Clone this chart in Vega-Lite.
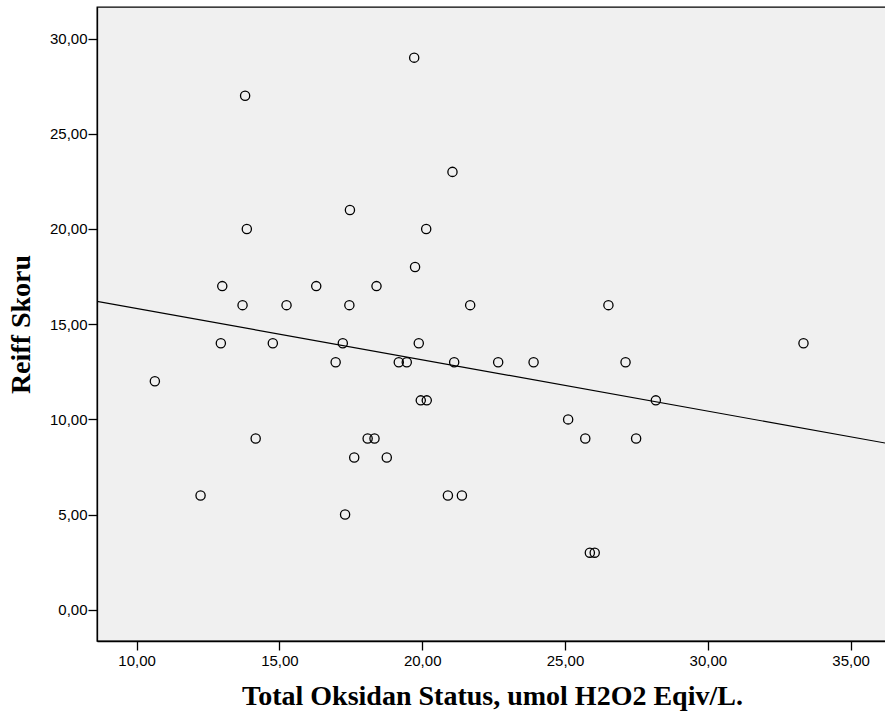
{
  "$schema": "https://vega.github.io/schema/vega-lite/v6.json",
  "autosize": "none",
  "padding": {"left": 97, "top": 7, "right": 0, "bottom": 77},
  "width": 790,
  "height": 634,
  "background": "white",
  "config": {
    "view": {"fill": "#f0f0f0", "stroke": "black", "strokeWidth": 1.3},
    "axis": {
      "domainColor": "black",
      "domainWidth": 1.3,
      "tickColor": "black",
      "tickWidth": 1.3,
      "tickSize": 9,
      "grid": false,
      "labelFont": "Liberation Sans",
      "labelFontSize": 15,
      "labelColor": "black",
      "titleFont": "Liberation Serif",
      "titleFontSize": 28,
      "titleFontWeight": "bold",
      "titleColor": "black"
    }
  },
  "data": {
    "values": [
      {"tos": 10.64, "reiff": 12},
      {"tos": 12.24, "reiff": 6},
      {"tos": 13.80, "reiff": 27},
      {"tos": 13.86, "reiff": 20},
      {"tos": 13.00, "reiff": 17},
      {"tos": 13.71, "reiff": 16},
      {"tos": 12.95, "reiff": 14},
      {"tos": 14.17, "reiff": 9},
      {"tos": 14.77, "reiff": 14},
      {"tos": 15.25, "reiff": 16},
      {"tos": 16.29, "reiff": 17},
      {"tos": 17.47, "reiff": 21},
      {"tos": 17.45, "reiff": 16},
      {"tos": 17.22, "reiff": 14},
      {"tos": 16.97, "reiff": 13},
      {"tos": 17.30, "reiff": 5},
      {"tos": 17.62, "reiff": 8},
      {"tos": 18.09, "reiff": 9},
      {"tos": 18.33, "reiff": 9},
      {"tos": 18.40, "reiff": 17},
      {"tos": 18.76, "reiff": 8},
      {"tos": 19.18, "reiff": 13},
      {"tos": 19.46, "reiff": 13},
      {"tos": 19.72, "reiff": 29},
      {"tos": 19.75, "reiff": 18},
      {"tos": 19.88, "reiff": 14},
      {"tos": 19.95, "reiff": 11},
      {"tos": 20.16, "reiff": 11},
      {"tos": 20.14, "reiff": 20},
      {"tos": 21.06, "reiff": 23},
      {"tos": 21.12, "reiff": 13},
      {"tos": 20.90, "reiff": 6},
      {"tos": 21.39, "reiff": 6},
      {"tos": 21.68, "reiff": 16},
      {"tos": 22.66, "reiff": 13},
      {"tos": 23.90, "reiff": 13},
      {"tos": 25.11, "reiff": 10},
      {"tos": 25.71, "reiff": 9},
      {"tos": 25.87, "reiff": 3},
      {"tos": 26.04, "reiff": 3},
      {"tos": 26.52, "reiff": 16},
      {"tos": 27.12, "reiff": 13},
      {"tos": 27.49, "reiff": 9},
      {"tos": 28.18, "reiff": 11},
      {"tos": 33.35, "reiff": 14}
    ]
  },
  "encoding": {
    "x": {
      "field": "tos",
      "type": "quantitative",
      "scale": {"domain": [8.614, 36.274], "nice": false, "zero": false},
      "axis": {
        "title": "Total Oksidan Status, umol H2O2 Eqiv/L.",
        "values": [10, 15, 20, 25, 30, 35],
        "labelExpr": "replace(format(datum.value, '.2f'), '.', ',')",
        "labelPadding": 3,
        "titlePadding": 14
      }
    },
    "y": {
      "field": "reiff",
      "type": "quantitative",
      "scale": {"domain": [-1.64, 31.66], "nice": false, "zero": false},
      "axis": {
        "title": "Reiff Skoru",
        "values": [0, 5, 10, 15, 20, 25, 30],
        "labelExpr": "replace(format(datum.value, '.2f'), '.', ',')",
        "labelPadding": 1,
        "titlePadding": 14
      }
    }
  },
  "layer": [
    {
      "mark": {"type": "point", "shape": "circle", "filled": false, "color": "black", "size": 85, "strokeWidth": 1.3, "opacity": 1}
    },
    {
      "transform": [
        {"regression": "reiff", "on": "tos", "extent": [8.614, 36.274]}
      ],
      "mark": {"type": "line", "color": "black", "strokeWidth": 1.2, "clip": true}
    }
  ]
}
